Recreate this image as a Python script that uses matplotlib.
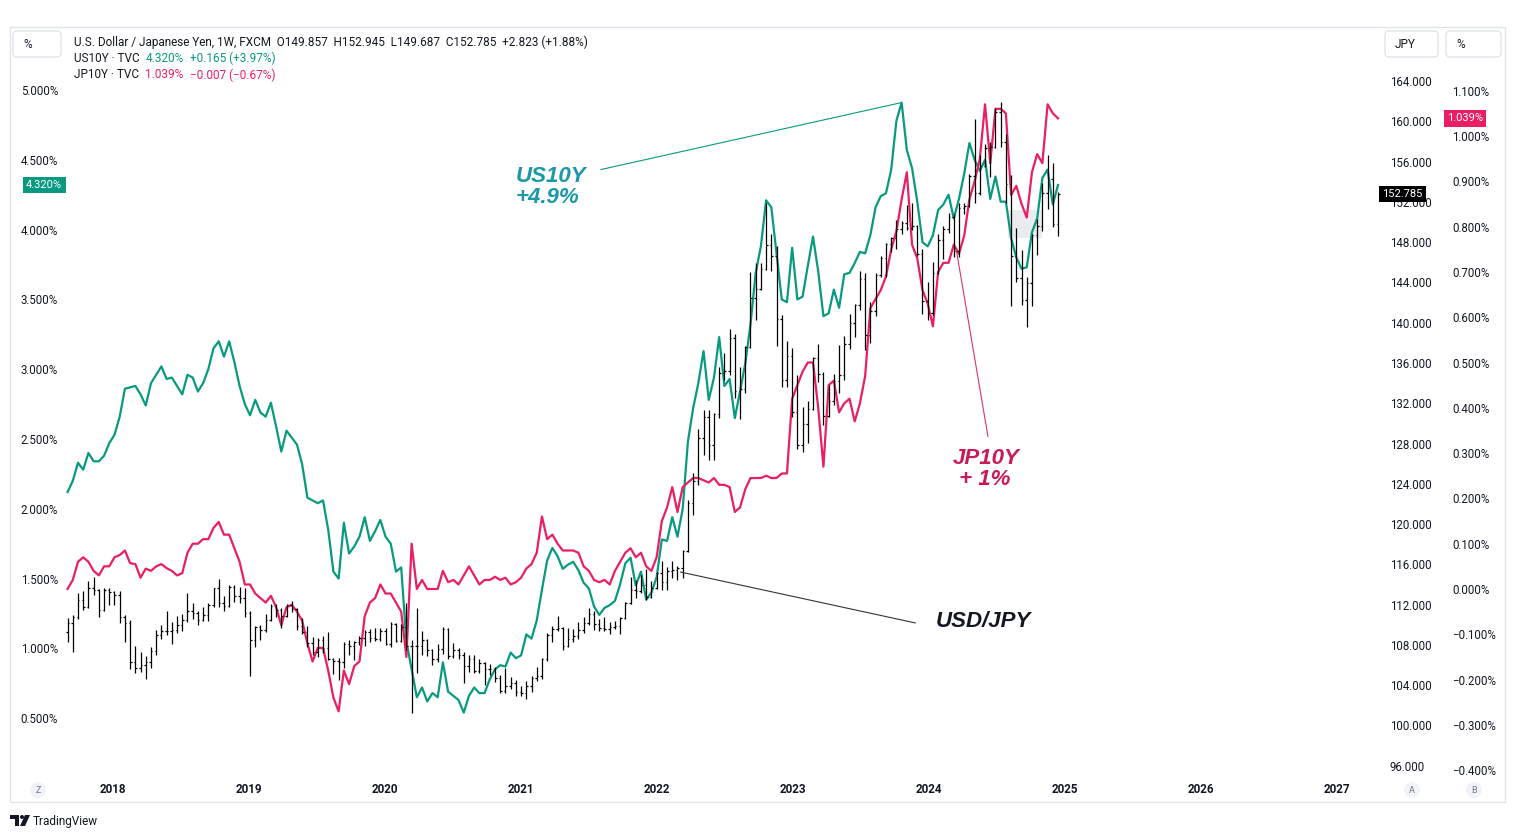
import numpy as np
import pandas as pd
import matplotlib
matplotlib.use("Agg")
import matplotlib.pyplot as plt
import matplotlib.dates as mdates
from matplotlib.patches import FancyBboxPatch, Circle, Rectangle, Polygon
from matplotlib.transforms import Bbox, TransformedBbox

W, H = 1515, 838

# ---------------- data: bi-weekly closes (Fridays), 2017-09-01 .. 2024-12-13 ----------------
start = "2017-09-01"

us10y = [
    2.12, 2.20, 2.33, 2.28, 2.40, 2.34, 2.34, 2.38, 2.47,                      # 2017
    2.53, 2.66, 2.86, 2.87, 2.88, 2.82, 2.74, 2.90, 2.96, 3.02, 2.93, 2.94, 2.88,
    2.82, 2.96, 2.94, 2.84, 2.90, 3.00, 3.15, 3.20, 3.09, 3.20, 3.05, 2.88, 2.75,  # 2018
    2.67, 2.78, 2.69, 2.66, 2.76, 2.59, 2.41, 2.56, 2.51, 2.46, 2.32, 2.08, 2.06,
    2.04, 2.06, 1.85, 1.55, 1.50, 1.90, 1.68, 1.73, 1.80, 1.94, 1.77, 1.84, 1.92,  # 2019
    1.80, 1.75, 1.55, 1.58, 1.05, 0.85, 0.65, 0.72, 0.62, 0.68, 0.65, 0.90, 0.69,
    0.66, 0.63, 0.54, 0.66, 0.72, 0.68, 0.68, 0.78, 0.85, 0.88, 0.87, 0.97, 0.93,  # 2020
    0.95, 1.10, 1.07, 1.20, 1.42, 1.63, 1.72, 1.66, 1.57, 1.60, 1.62, 1.56, 1.47,
    1.43, 1.30, 1.24, 1.29, 1.31, 1.34, 1.46, 1.61, 1.65, 1.45, 1.55, 1.35, 1.40, 1.51,  # 2021
    1.78, 1.77, 1.94, 1.80, 2.00, 2.48, 2.72, 2.90, 3.13, 2.78, 2.94, 3.23, 2.88,
    2.93, 2.65, 2.84, 3.04, 3.32, 3.69, 3.88, 4.21, 4.16, 3.83, 3.50, 3.48, 3.87,  # 2022
    3.50, 3.52, 3.74, 3.95, 3.70, 3.38, 3.40, 3.57, 3.44, 3.68, 3.69, 3.76, 3.84,
    3.83, 3.96, 4.16, 4.24, 4.26, 4.43, 4.78, 4.91, 4.57, 4.44, 4.20, 3.91, 3.88,  # 2023
    3.96, 4.14, 4.18, 4.25, 4.08, 4.22, 4.40, 4.62, 4.50, 4.42, 4.50, 4.22, 4.38,
    4.20, 4.20, 3.94, 3.80, 3.72, 3.73, 3.98, 4.08, 4.37, 4.43, 4.18, 4.32,        # 2024
]

jp10y = [
    0.00, 0.02, 0.06, 0.07, 0.06, 0.04, 0.03, 0.05, 0.05,
    0.07, 0.075, 0.085, 0.057, 0.055, 0.025, 0.045, 0.04, 0.05, 0.055, 0.046, 0.04, 0.03,
    0.035, 0.08, 0.10, 0.10, 0.11, 0.11, 0.135, 0.148, 0.12, 0.12, 0.09, 0.06, 0.01,
    0.01, -0.01, -0.02, -0.03, -0.015, -0.04, -0.08, -0.04, -0.035, -0.05, -0.07, -0.12, -0.16,
    -0.13, -0.13, -0.18, -0.24, -0.27, -0.18, -0.21, -0.17, -0.16, -0.06, -0.03, -0.02, 0.01,
    -0.01, -0.01, -0.03, -0.05, -0.15, 0.10, 0.00, 0.02, 0.00, 0.00, 0.00, 0.04, 0.015,
    0.02, 0.01, 0.03, 0.05, 0.03, 0.01, 0.02, 0.02, 0.027, 0.02, 0.025, 0.01, 0.015,
    0.025, 0.045, 0.055, 0.08, 0.16, 0.11, 0.12, 0.10, 0.085, 0.085, 0.085, 0.08, 0.05,
    0.04, 0.02, 0.015, 0.02, 0.01, 0.04, 0.06, 0.08, 0.09, 0.07, 0.08, 0.05, 0.04, 0.07,
    0.15, 0.18, 0.225, 0.17, 0.225, 0.235, 0.245, 0.245, 0.24, 0.235, 0.245, 0.23, 0.23,
    0.225, 0.17, 0.18, 0.22, 0.245, 0.245, 0.245, 0.25, 0.245, 0.245, 0.255, 0.255, 0.42,
    0.45, 0.48, 0.50, 0.50, 0.40, 0.27, 0.45, 0.46, 0.39, 0.41, 0.42, 0.37, 0.41,
    0.47, 0.62, 0.64, 0.66, 0.69, 0.75, 0.79, 0.86, 0.92, 0.76, 0.73, 0.66, 0.63,
    0.58, 0.70, 0.72, 0.72, 0.76, 0.74, 0.78, 0.86, 0.90, 0.95, 1.07, 0.94, 1.06,
    1.06, 1.05, 0.87, 0.89, 0.85, 0.82, 0.92, 0.96, 0.94, 1.07, 1.05, 1.039,
]

fx_open0 = 109.3
fx_close = [
    110.2, 110.8, 112.5, 111.8, 113.7, 113.5, 111.5, 113.5, 113.3,
    113.0, 110.8, 110.2, 106.3, 105.7, 106.0, 106.3, 107.4, 109.0, 109.4, 109.4, 109.5, 110.0,
    110.5, 111.4, 111.2, 110.5, 111.0, 112.0, 113.7, 112.2, 111.9, 113.8, 112.9, 112.7, 111.2,
    108.5, 109.8, 109.5, 110.5, 111.9, 111.5, 110.9, 112.0, 111.6, 109.9, 109.3, 108.2, 107.3,
    108.5, 107.7, 106.6, 106.4, 106.3, 108.1, 107.9, 108.3, 108.7, 109.3, 108.7, 108.6, 109.4,
    108.1, 110.1, 108.4, 109.8, 107.9, 107.9, 107.9, 108.5, 107.5, 106.6, 107.6, 109.6, 106.9,
    107.5, 107.0, 105.9, 106.6, 105.4, 106.2, 105.6, 105.6, 104.7, 103.4, 103.9, 104.2, 103.3,
    103.2, 103.9, 104.7, 104.9, 106.6, 109.0, 109.6, 109.7, 107.9, 108.6, 108.9, 109.5, 110.2,
    111.1, 110.1, 109.7, 109.6, 109.8, 109.9, 110.7, 112.2, 113.5, 113.4, 114.0, 112.8, 113.7, 115.1,
    114.2, 115.3, 115.4, 115.6, 117.3, 122.1, 124.3, 128.5, 130.6, 127.9, 130.9, 135.0, 135.2,
    138.5, 133.2, 133.4, 137.6, 142.5, 143.3, 145.3, 147.7, 146.6, 140.4, 134.3, 136.7, 131.1,
    127.9, 129.9, 131.4, 136.5, 134.9, 130.7, 132.2, 134.2, 134.8, 137.9, 140.0, 141.8, 144.3,
    138.8, 141.2, 144.7, 146.4, 147.8, 148.4, 149.3, 149.9, 149.4, 149.6, 146.8, 142.2, 141.0,
    144.9, 148.2, 149.3, 150.5, 147.1, 151.4, 151.6, 154.6, 152.9, 155.6, 157.3, 157.4, 160.9,
    157.9, 153.8, 146.6, 144.4, 142.3, 143.9, 148.7, 149.6, 152.9, 154.3, 149.8, 152.785,
]
fx_high = [
    110.7, 111.0, 113.2, 113.4, 114.3, 114.7, 113.6, 113.7, 113.7,
    113.4, 113.4, 111.0, 110.5, 107.9, 107.3, 106.9, 107.8, 109.5, 110.0, 111.4, 110.3, 110.9,
    111.1, 113.2, 112.2, 111.4, 111.8, 112.2, 113.7, 114.5, 112.9, 114.0, 114.0, 113.8, 113.7,
    111.4, 109.9, 110.0, 111.1, 112.1, 112.1, 111.7, 112.1, 112.4, 111.7, 110.7, 109.9, 108.8,
    108.7, 108.9, 109.3, 106.7, 106.7, 108.3, 108.5, 108.4, 108.9, 109.5, 109.6, 109.7, 109.7,
    109.7, 110.3, 110.2, 110.1, 112.2, 108.5, 111.7, 109.4, 108.6, 107.6, 108.1, 109.8, 109.7,
    108.2, 107.7, 107.3, 107.0, 107.0, 106.6, 106.3, 106.1, 105.8, 105.0, 105.7, 104.8, 104.5,
    103.9, 104.4, 104.9, 105.8, 106.7, 109.2, 109.9, 110.9, 109.8, 109.7, 109.6, 110.3, 110.8,
    111.7, 111.4, 110.6, 110.8, 110.3, 110.4, 110.8, 112.3, 114.7, 114.4, 114.9, 115.5, 114.3, 115.2,
    116.3, 115.7, 116.3, 115.8, 117.4, 122.4, 125.1, 129.4, 131.3, 131.3, 131.0, 135.6, 137.0,
    139.4, 138.9, 135.6, 137.7, 145.0, 145.9, 145.9, 151.9, 148.8, 147.6, 140.8, 138.2, 137.5,
    134.8, 131.6, 132.2, 136.6, 137.9, 135.1, 133.8, 134.9, 137.8, 138.7, 140.9, 141.9, 145.1,
    144.9, 142.1, 144.9, 146.6, 147.9, 148.5, 150.2, 150.1, 151.7, 151.9, 149.7, 147.3, 144.0,
    146.0, 148.8, 149.6, 150.9, 150.8, 151.9, 151.9, 154.8, 160.2, 156.7, 157.7, 157.9, 161.3,
    161.9, 158.7, 154.7, 149.4, 147.2, 144.5, 148.8, 150.3, 153.9, 156.7, 155.9, 152.945,
]
fx_low = [
    108.3, 107.3, 110.6, 111.5, 111.7, 113.0, 110.8, 111.4, 112.0,
    112.0, 110.2, 108.3, 105.6, 105.2, 105.3, 104.6, 105.7, 107.0, 108.6, 109.0, 108.1, 109.2,
    109.4, 110.3, 110.6, 110.0, 110.4, 110.4, 111.8, 111.8, 111.4, 111.8, 112.3, 112.2, 110.8,
    104.9, 107.8, 108.5, 109.3, 110.4, 110.8, 109.7, 110.8, 111.3, 109.5, 109.1, 107.8, 107.0,
    106.8, 107.2, 106.5, 105.1, 104.5, 105.7, 107.0, 106.5, 108.0, 107.9, 108.3, 108.4, 108.4,
    108.0, 107.8, 108.3, 108.3, 107.5, 101.2, 105.2, 107.0, 106.9, 106.0, 106.3, 107.1, 106.6,
    106.7, 106.6, 104.2, 105.3, 105.2, 105.2, 104.0, 105.0, 104.3, 103.2, 103.2, 103.6, 102.9,
    102.9, 102.6, 103.3, 104.4, 104.6, 106.4, 108.3, 109.4, 107.5, 107.8, 108.3, 108.6, 109.2,
    110.0, 109.5, 109.4, 109.4, 109.1, 109.6, 109.1, 110.6, 112.1, 112.7, 113.2, 112.5, 112.7, 113.6,
    113.5, 113.5, 114.6, 114.4, 114.6, 117.2, 120.9, 123.9, 126.9, 126.4, 126.4, 130.5, 134.3,
    134.8, 132.5, 130.4, 133.0, 137.5, 140.3, 143.2, 145.2, 145.1, 137.7, 133.6, 133.6, 130.6,
    127.5, 127.2, 128.1, 131.3, 134.1, 129.8, 130.6, 131.8, 133.0, 134.3, 137.4, 138.6, 141.3,
    137.3, 138.0, 140.7, 144.5, 144.5, 147.0, 147.3, 148.8, 149.2, 149.2, 146.6, 140.9, 140.3,
    140.8, 144.8, 146.3, 148.9, 146.5, 146.5, 150.8, 151.5, 151.9, 152.7, 155.5, 154.5, 157.3,
    157.4, 151.9, 141.7, 144.0, 141.8, 139.6, 141.7, 146.7, 149.1, 151.3, 149.5, 148.6,
]

years = list(range(2018, 2028))
us_ticks = np.arange(0.5, 5.01, 0.5)
fx_ticks = np.arange(96, 165, 4)
jp_ticks = np.round(np.arange(-0.4, 1.101, 0.1), 3) + 0.0

GREEN = "#089981"
PINK = "#e91e63"
TXT = "#131722"

dates = pd.date_range(start, periods=len(fx_close), freq="14D")
xd = mdates.date2num(dates)
fx_open = np.array([fx_open0] + fx_close[:-1])
fx_close = np.array(fx_close)
fx_high = np.maximum(np.array(fx_high), np.maximum(fx_open, fx_close))
fx_low = np.minimum(np.array(fx_low), np.minimum(fx_open, fx_close))

plt.rcParams["font.family"] = ["Roboto", "DejaVu Sans"]

fig = plt.figure(figsize=(W / 100, H / 100), dpi=100)
fig.patch.set_facecolor("white")

# plot pane in pixels
L, R, T, B = 65, 1380, 27, 775
ax = fig.add_axes([L / W, 1 - B / H, (R - L) / W, (B - T) / H])
ax_jp = ax.twinx()
ax_fx = ax.twinx()

# lines / bars
ax.plot(xd, us10y, color=GREEN, lw=1.6, solid_joinstyle="round")
ax_jp.plot(xd, jp10y, color=PINK, lw=1.6, solid_joinstyle="round")
tick = 4.0
ax_fx.vlines(xd, fx_low, fx_high, color="black", lw=0.9)
ax_fx.hlines(fx_open, xd - tick, xd, color="black", lw=0.9)
ax_fx.hlines(fx_close, xd, xd + tick, color="black", lw=0.9)

# shaded drawing box
box = Rectangle((mdates.date2num(pd.Timestamp("2024-07-31")), 148.45),
                91, 2.75, transform=ax_fx.transData,
                facecolor="#e9ebef", edgecolor="none", zorder=0)
ax.add_patch(box)

# scales (TradingView pixel layout)
px_day = 136 / 365.25
x0 = mdates.date2num(pd.Timestamp("2018-01-01")) - (113 - L) / px_day
ax.set_xlim(x0, x0 + (R - L) / px_day)
ax.set_ylim(5 - (B - 90) / 139.6, 5 + (90 - T) / 139.6)
ax_fx.set_ylim(164 - (B - 81) / 10.07, 164 + (81 - T) / 10.07)
ax_jp.set_ylim((589 - B) / 453, (589 - T) / 453)

for a in (ax, ax_jp, ax_fx):
    for s in a.spines.values():
        s.set_visible(False)

ax.set_xticks([mdates.date2num(pd.Timestamp(f"{y}-01-01")) for y in years])
ax.set_xticklabels([str(y) for y in years], fontweight="bold")
ax.tick_params(axis="x", length=0, pad=6, labelsize=8.4, labelcolor=TXT)

ax.set_yticks(us_ticks)
ax.set_yticklabels([f"{v:.3f}%" for v in us_ticks])
ax.tick_params(axis="y", length=0, pad=5, labelsize=8.3, labelcolor=TXT)

ax_fx.set_yticks(fx_ticks)
ax_fx.set_yticklabels([f"{v:.3f}" for v in fx_ticks])
ax_fx.tick_params(axis="y", length=0, pad=7, labelsize=8.3, labelcolor=TXT)

ax_jp.set_yticks(jp_ticks)
ax_jp.set_yticklabels([f"{v:.3f}%".replace("-", "\u2212") for v in jp_ticks])
ax_jp.tick_params(axis="y", length=0, pad=52, labelsize=8.3, labelcolor=TXT)
clip = TransformedBbox(Bbox.from_extents(0, (H - 776) / H, 1, 1), fig.transFigure)
for lab in ax_jp.get_yticklabels():
    lab.set_clip_box(clip)
    lab.set_clip_on(True)

# last-value tags
ax.text(-0.002, us10y[-1], f"{us10y[-1]:.3f}%", transform=ax.get_yaxis_transform(),
        ha="right", va="center", color="white", fontsize=8, zorder=6, clip_on=False,
        bbox=dict(boxstyle="square,pad=0.3", fc=GREEN, ec="none"))
ax_fx.text(1.0018, fx_close[-1], f"{fx_close[-1]:.3f}", transform=ax_fx.get_yaxis_transform(),
           ha="left", va="center", color="white", fontsize=8, zorder=6, clip_on=False,
           bbox=dict(boxstyle="square,pad=0.3", fc="black", ec="none"))
ax_jp.text((1447 - L) / (R - L), jp10y[-1], f"{jp10y[-1]:.3f}%", transform=ax_jp.get_yaxis_transform(),
           ha="left", va="center", color="white", fontsize=8, zorder=6, clip_on=False,
           bbox=dict(boxstyle="square,pad=0.3", fc=PINK, ec="none"))

# annotations
ANN = dict(family=["Liberation Sans", "DejaVu Sans"], fontweight="bold",
           fontstyle="italic", fontsize=16, linespacing=1.0)
d = lambda s: mdates.date2num(pd.Timestamp(s))

i_pk = int(np.argmax(us10y))
ax.annotate("", xy=(xd[i_pk], us10y[i_pk]), xytext=(d("2021-08-03"), 4.43),
            arrowprops=dict(arrowstyle="-", color=GREEN, lw=0.8, shrinkA=0, shrinkB=0))
ax.text(d("2020-12-17"), 4.305, "US10Y\n+4.9%", color="#1b97a6", ha="left", va="center", **ANN)

ax_jp.annotate("", xy=(d("2024-03-15"), 0.748), xytext=(d("2024-06-08"), 0.336),
               arrowprops=dict(arrowstyle="-", color="#d6336c", lw=0.8, shrinkA=0, shrinkB=0))
ax_jp.text(d("2024-03-05"), 0.264, "JP10Y\n + 1%", color="#c8195a", ha="left", va="center", **ANN)

ax_fx.annotate("", xy=(d("2022-03-05"), 115.24), xytext=(d("2023-11-26"), 110.18),
               arrowprops=dict(arrowstyle="-", color="#333333", lw=0.8, shrinkA=0, shrinkB=0))
ax_fx.text(d("2024-01-19"), 110.28, "USD/JPY", color=TXT, ha="left", va="center", **ANN)

# header legend
def fpos(x, y):
    return x / W, 1 - y / H

HS = 8.5
fig.text(*fpos(74, 42), "U.S. Dollar / Japanese Yen, 1W, FXCM  O149.857  H152.945  L149.687  C152.785  +2.823 (+1.88%)",
         fontsize=HS, color=TXT, va="center", ha="left")

def legend_row(y, parts):
    t = fig.text(*fpos(74, y), parts[0][0], fontsize=HS, color=parts[0][1], va="center", ha="left")
    for s, c in parts[1:]:
        t = ax.annotate(s, xy=(1, 0.5), xycoords=t, xytext=(4.5, 0), textcoords="offset points",
                        fontsize=HS, color=c, va="center", ha="left", annotation_clip=False)

legend_row(58, [("US10Y \u00b7 TVC", TXT), ("4.320%", GREEN), ("+0.165 (+3.97%)", GREEN)])
legend_row(75, [("JP10Y \u00b7 TVC", TXT), ("1.039%", PINK), ("\u22120.007 (\u22120.67%)", PINK)])

# chrome: frame, scale buttons, corner buttons, logo
inch = fig.dpi_scale_trans
def prect(x1, y1, x2, y2, **kw):
    return FancyBboxPatch((x1 / 100, (H - y2) / 100), (x2 - x1) / 100, (y2 - y1) / 100,
                          transform=inch, **kw)

fig.patches.append(Rectangle((10 / 100, (H - 802) / 100), 1495 / 100, 775 / 100, transform=inch,
                             fill=False, ec="#e0e3eb", lw=1))
for (x1, x2, label) in [(13, 61, "%"), (1385, 1438, "JPY"), (1446, 1501, "%")]:
    fig.patches.append(prect(x1, 31, x2, 57, boxstyle="round,pad=0,rounding_size=0.04",
                             fc="white", ec="#e0e3eb", lw=1))
    fig.text(*fpos(x1 + 10, 44), label, fontsize=8.5, color=TXT, va="center", ha="left")

for (cx, label) in [(38, "Z"), (1412, "A"), (1474, "B")]:
    fig.patches.append(Circle((cx / 100, (H - 790) / 100), 0.08, transform=inch,
                              fc="#f0f3fa", ec="none"))
    fig.text(*fpos(cx, 790), label, fontsize=6.5, color="#787b86", va="center", ha="center")

fig.patches.append(Polygon([(10 / 100, (H - 815) / 100), (19 / 100, (H - 815) / 100),
                            (19 / 100, (H - 826) / 100), (15 / 100, (H - 826) / 100),
                            (15 / 100, (H - 819) / 100), (10 / 100, (H - 819) / 100)],
                           closed=True, transform=inch, fc="#131722", ec="none"))
fig.patches.append(Circle((22 / 100, (H - 817) / 100), 0.02, transform=inch, fc="#131722", ec="none"))
fig.patches.append(Polygon([(25 / 100, (H - 815) / 100), (30 / 100, (H - 815) / 100),
                            (25 / 100, (H - 826) / 100), (20 / 100, (H - 826) / 100)],
                           closed=True, transform=inch, fc="#131722", ec="none"))
fig.text(*fpos(33, 821), "TradingView", fontsize=8.5, color="#131722", va="center", ha="left")

fig.savefig("out.png", dpi=100, facecolor="white")
